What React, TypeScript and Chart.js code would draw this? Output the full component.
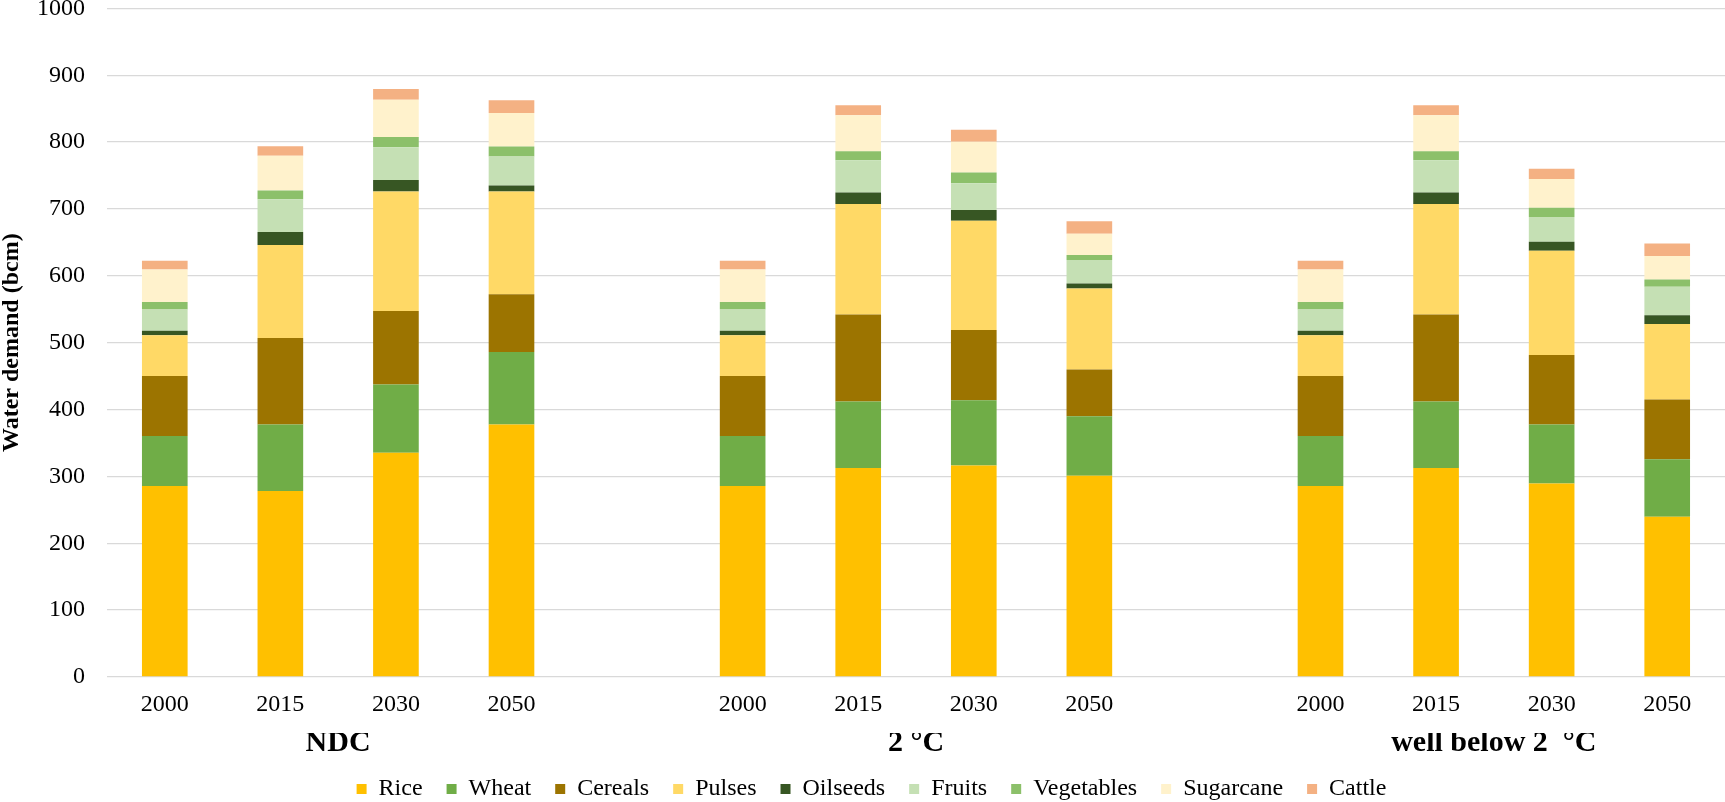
import React, { useEffect, useRef } from 'react';
import { Chart, registerables } from 'chart.js';

Chart.register(...registerables);

const FONT = '"Liberation Serif", "Times New Roman", serif';

const categories = ['2000', '2015', '2030', '2050', '', '2000', '2015', '2030', '2050', '', '2000', '2015', '2030', '2050'];
// group label row: each name sits on the 2nd bar of its group and is shifted half a slot right
const groupRow = ['', 'NDC', '', '', '', '', '2 °C', '', '', '', '', 'well below 2  °C', '', ''];

const rice = [285.5, 278, 335.5, 377.5, null, 285.5, 312.5, 316.5, 301, null, 285.5, 312.5, 289.5, 239.5];
const wheat = [75, 99.5, 102, 108.5, null, 75, 99.5, 97.5, 89, null, 75, 99.5, 88, 86];
const cereals = [89.5, 129.5, 110, 86.5, null, 89.5, 130, 105, 70, null, 89.5, 130, 104, 89.5];
const pulses = [61, 139, 178.5, 153.5, null, 61, 165.5, 163.5, 121, null, 61, 165.5, 156, 113];
const oilseeds = [7, 19.5, 17.5, 9, null, 7, 17, 16, 7.5, null, 7, 17, 13.5, 13];
const fruits = [31.5, 49, 49, 43.5, null, 31.5, 48.5, 40, 35, null, 31.5, 48.5, 37, 42.5];
const vegetables = [11.5, 13, 15, 15, null, 11.5, 13.5, 16, 7.5, null, 11.5, 13.5, 14, 11];
const sugarcane = [48.5, 52, 56, 50, null, 48.5, 53.5, 46, 32, null, 48.5, 53.5, 43, 35];
const cattle = [13, 14.5, 16, 19, null, 13, 15, 18, 18.5, null, 13, 15, 15, 19];

const seriesNames = ['Rice', 'Wheat', 'Cereals', 'Pulses', 'Oilseeds', 'Fruits', 'Vegetables', 'Sugarcane', 'Cattle'];
const seriesData = [rice, wheat, cereals, pulses, oilseeds, fruits, vegetables, sugarcane, cattle];
const seriesColors = ['#FFC000', '#70AD47', '#9C7400', '#FFD966', '#375623', '#C5E0B4', '#8CC06A', '#FFF2CC', '#F4B183'];

const legendShift = {
  id: 'legendShift',
  beforeDraw(chart: any) {
    if (chart.legend) chart.legend.left = 18;
  },
};

export default function App() {
  const ref = useRef<HTMLCanvasElement | null>(null);

  useEffect(() => {
    document.body.style.margin = '0';
    const canvas = ref.current;
    if (!canvas) return;
    const chart = new Chart(canvas, {
      type: 'bar',
      data: {
        labels: categories,
        datasets: seriesNames.map((name, i) => ({
          label: name,
          data: seriesData[i],
          backgroundColor: seriesColors[i],
          borderWidth: 0,
          categoryPercentage: 1,
          barPercentage: 0.395,
        })),
      },
      plugins: [legendShift],
      options: {
        responsive: false,
        animation: false,
        layout: { padding: 0 },
        plugins: {
          legend: {
            position: 'bottom',
            maxHeight: 49,
            labels: {
              font: { family: FONT, size: 24 },
              color: '#000',
              boxWidth: 10,
              boxHeight: 10,
              padding: 24,
            },
          },
          tooltip: { enabled: false },
        },
        scales: {
          x: {
            type: 'category',
            stacked: true,
            offset: true,
            weight: 0,
            grid: { display: false, drawTicks: false },
            border: { display: false },
            ticks: {
              font: { family: FONT, size: 24, lineHeight: 1.2 },
              color: '#000',
              padding: 13.6,
              autoSkip: false,
              maxRotation: 0,
              minRotation: 0,
            },
          },
          x2: {
            type: 'category',
            labels: groupRow,
            position: 'bottom',
            offset: true,
            weight: 1,
            grid: { display: false, drawTicks: false },
            border: { display: false },
            ticks: {
              font: { family: FONT, size: 30, weight: 'bold', lineHeight: 0.667 },
              color: '#000',
              padding: 0,
              labelOffset: 57.75,
              autoSkip: false,
              maxRotation: 0,
              minRotation: 0,
            },
          },
          y: {
            stacked: true,
            min: 0,
            max: 1000,
            border: { display: false },
            grid: {
              color: '#D9D9D9',
              lineWidth: 1.3,
              drawTicks: true,
              tickLength: 22,
              tickColor: 'rgba(0,0,0,0)',
            },
            ticks: {
              stepSize: 100,
              callback: (v: any) => String(v),
              font: { family: FONT, size: 24, lineHeight: 0.7 },
              color: '#000',
              padding: 0,
            },
            title: {
              display: true,
              text: 'Water demand (bcm)',
              font: { family: FONT, size: 24, weight: 'bold', lineHeight: 1 },
              color: '#000',
              padding: { top: 0, bottom: 13 },
            },
          },
        },
      } as any,
    });
    return () => chart.destroy();
  }, []);

  return (
    <div style={{ width: 1725, height: 802 }}>
      <canvas ref={ref} width={1725} height={802} style={{ width: 1725, height: 802, display: 'block' }} />
    </div>
  );
}
